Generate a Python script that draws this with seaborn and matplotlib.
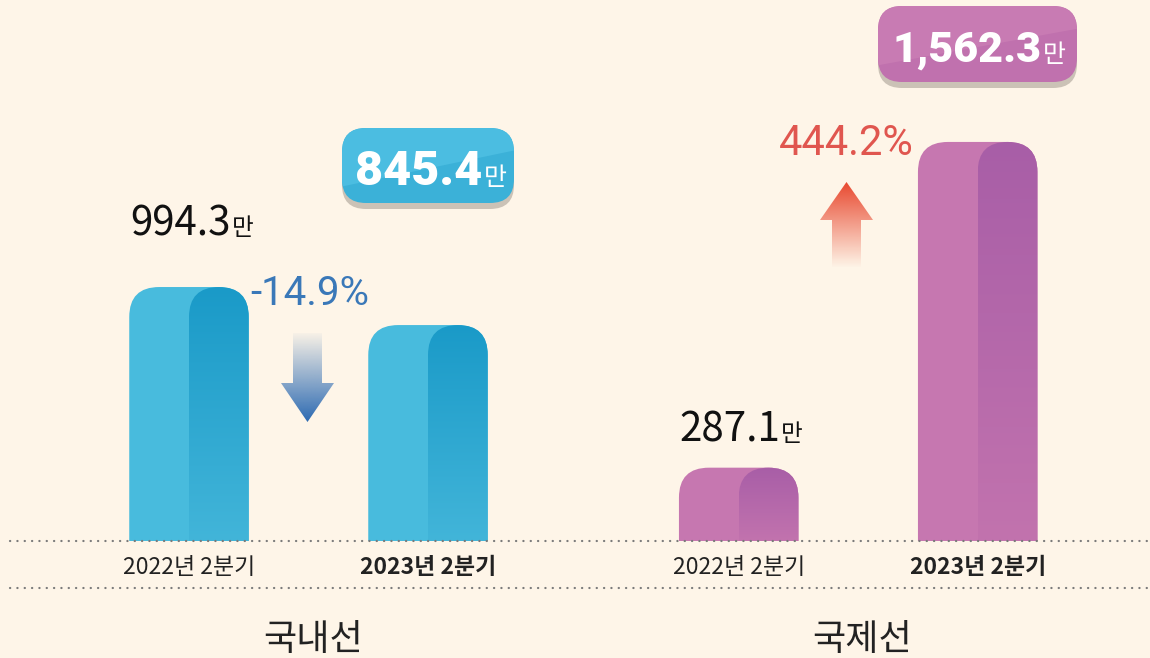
import matplotlib
matplotlib.use("Agg")
import matplotlib.pyplot as plt
from matplotlib.patches import FancyBboxPatch, Polygon
from matplotlib.colors import LinearSegmentedColormap, to_rgb
import seaborn as sns
import pandas as pd
import numpy as np

# Data (passengers, 만 명)
routes = ['국내선', '국내선', '국제선', '국제선']
periods = ['2022년 2분기', '2023년 2분기', '2022년 2분기', '2023년 2분기']
passengers = [994.3, 845.4, 287.1, 1562.3]
route_names = ['국내선', '국제선']
changes = [-14.9, 444.2]

W, H = 1150, 658
BG = '#fef5e8'
light = {'국내선': '#48bbdd', '국제선': '#c677b0'}
dark_top = {'국내선': '#1a9ac8', '국제선': '#a85ea7'}
dark_bottom = {'국내선': '#42b5d9', '국제선': '#c273ae'}

sns.set_theme(style='white')
plt.rcParams['font.family'] = ['Noto Sans CJK KR', 'DejaVu Sans']

df = pd.DataFrame({'route': routes, 'period': periods, 'value': passengers})
# group gap a bit wider than bar spacing
df['pos'] = [route_names.index(r) * 2.3 + (0 if p.startswith('2022') else 1)
             for r, p in zip(routes, periods)]

fig = plt.figure(figsize=(W / 100, H / 100), dpi=100, facecolor=BG)
ax = fig.add_axes([0, 117 / H, 1, 541 / H])
ax.set_facecolor('none')

sns.barplot(data=df, x='pos', y='value', hue='route', palette=light,
            native_scale=True, width=0.5, dodge=False, legend=False,
            errorbar=None, ax=ax)

xpx = 239.0                  # pixels per x unit
ymax = 2118.0
ypx = 541.0 / ymax           # pixels per y unit
r = 30.0
rx, ry = r / xpx, r / ypx

bars = sorted(ax.patches, key=lambda p: p.get_x())
for p, route in zip(bars, routes):
    x0, w, h = p.get_x(), p.get_width(), p.get_height()
    p.set_visible(False)
    body = FancyBboxPatch((x0, -ry), w, h + ry,
                          boxstyle=f'round,pad=0,rounding_size={rx}',
                          mutation_aspect=ry / rx, fc=light[route], ec='none', zorder=2)
    ax.add_patch(body)
    side = FancyBboxPatch((x0 + w / 2, -ry), w / 2, h + ry,
                          boxstyle=f'round,pad=0,rounding_size={rx}',
                          mutation_aspect=ry / rx, fc='none', ec='none', zorder=3)
    ax.add_patch(side)
    cmap = LinearSegmentedColormap.from_list('g', [dark_bottom[route], dark_top[route]])
    im = ax.imshow(np.linspace(0, 1, 256).reshape(-1, 1), cmap=cmap, origin='lower',
                   extent=[x0 + w / 2, x0 + w, 0, h], aspect='auto', zorder=3)
    im.set_clip_path(side)

ax.set_xlim(-189 / xpx, (W - 189) / xpx)
ax.set_ylim(0, ymax)
for s in ax.spines.values():
    s.set_visible(False)
ax.set_yticks([])
ax.set_xlabel('')
ax.set_ylabel('')
ax.set_xticks(df['pos'])
ax.set_xticklabels(periods, fontsize=16.5, color='#222222')
for lab in ax.get_xticklabels():
    if lab.get_text().startswith('2023'):
        lab.set_fontweight('bold')
ax.tick_params(axis='x', length=0, pad=11)

# overlay in pixel coordinates for annotations
ov = fig.add_axes([0, 0, 1, 1])
ov.set_facecolor('none')
ov.axis('off')

for yy in (541, 588):
    ov.plot([10, W], [yy, yy], color='#7a7a7a', lw=1.6,
            linestyle=(0, (0.1, 3.2)), dash_capstyle='round')

# group labels
for name, cx in zip(route_names, (313, 862)):
    ov.text(cx, 640, name, fontsize=26, ha='center', va='center', color='#222222')

# plain value labels
def value_label(val, x_right, base):
    ov.text(x_right, base, f'{val:,.1f}', fontsize=29, ha='right', va='baseline', color='#111111')
    ov.text(x_right + 1, base, '만', fontsize=17, ha='left', va='baseline', color='#111111')

value_label(passengers[0], 231, 235)
value_label(passengers[2], 780, 441)

# badges
def badge(val, x0, y0, x1, y1, col, hi, text_right, base, size):
    ov.add_patch(FancyBboxPatch((x0, y0 + 6), x1 - x0, y1 - y0, boxstyle='round,pad=0,rounding_size=24',
                                fc='#cbc2b6', ec='none'))
    box = FancyBboxPatch((x0, y0), x1 - x0, y1 - y0, boxstyle='round,pad=0,rounding_size=24',
                         fc=col, ec='none')
    ov.add_patch(box)
    shine = Polygon([(x0, y0), (x1, y0), (x1, y0 + 0.3 * (y1 - y0)), (x0, y0 + 0.78 * (y1 - y0))],
                    closed=True, fc=hi, ec='none')
    ov.add_patch(shine)
    shine.set_clip_path(box)
    ov.text(text_right, base, f'{val:,.1f}', fontsize=size, fontweight='heavy',
            family=['Roboto', 'DejaVu Sans'], ha='right', va='baseline', color='white')
    ov.text(text_right + 2, base, '만', fontsize=18, ha='left', va='baseline', color='white')

badge(passengers[1], 342, 128, 514, 203, '#3bb1d8', '#4bbde1', 482, 185, 35)
badge(passengers[3], 878, 6, 1077, 82, '#c071ae', '#c87bb3', 1041, 62, 31)

# change labels
ov.text(310, 305, f'{changes[0]:.1f}%', fontsize=29, family=['Roboto', 'DejaVu Sans'],
        ha='center', va='baseline', color='#3a78b8')
ov.text(846, 155, f'{changes[1]:.1f}%', fontsize=30, family=['Roboto', 'DejaVu Sans'],
        ha='center', va='baseline', color='#e0564f')

# arrows with fading gradient
def grad_arrow(pts, extent, color, fade_top):
    poly = Polygon(pts, closed=True, fc='none', ec='none')
    ov.add_patch(poly)
    n = 128
    arr = np.zeros((n, 1, 4))
    arr[:, 0, :3] = to_rgb(color)
    a = np.linspace(0, 1, n)
    arr[:, 0, 3] = a if fade_top else a[::-1]
    im = ov.imshow(arr, extent=extent, origin='upper', aspect='auto')
    im.set_clip_path(poly)

grad_arrow([(293, 333), (322, 333), (322, 383), (334, 383), (307.5, 422),
            (281, 383), (293, 383)], [278, 337, 422, 330], '#2c6ab2', True)
grad_arrow([(832, 268), (832, 220), (820, 220), (846.5, 182), (873, 220),
            (861, 220), (861, 268)], [818, 875, 268, 180], '#e8452c', False)

ov.set_xlim(0, W)
ov.set_ylim(H, 0)

fig.savefig('out.png', dpi=100, facecolor=BG)
